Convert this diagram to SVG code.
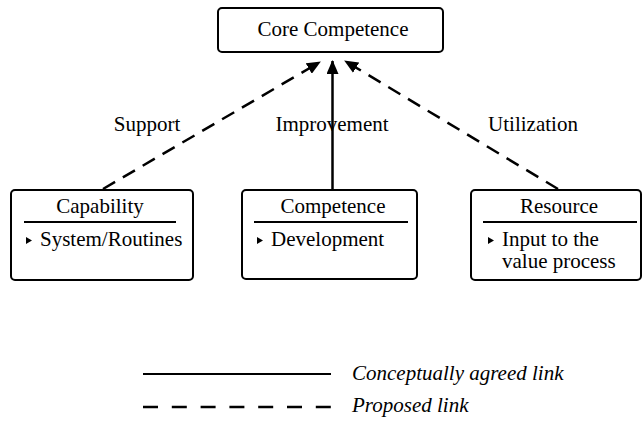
<svg xmlns="http://www.w3.org/2000/svg" width="644" height="425" viewBox="0 0 644 425">
  <style>
    .box { fill: #fff; stroke: #000; stroke-width: 2; }
    .rule { stroke: #000; stroke-width: 2; }
    .t { font-family: "Liberation Serif", "Times New Roman", serif; font-size: 21px; fill: #000; }
    .c { text-anchor: middle; }
    .i { font-style: italic; }
    .solid { stroke: #000; stroke-width: 2.5; fill: none; }
    .dash { stroke: #000; stroke-width: 2.5; fill: none; stroke-dasharray: 14 9; }
  </style>
  <defs>
    <marker id="head" viewBox="0 0 14 12" refX="13" refY="6" markerWidth="14" markerHeight="12" markerUnits="userSpaceOnUse" orient="auto">
      <path d="M0,0 L14,6 L0,12 Z" fill="#000"/>
    </marker>
    <path id="bullet" d="M0,-3.5 L6,0 L0,3.5 Z" fill="#000"/>
  </defs>

  <!-- connectors and their labels -->
  <g id="connectors">
    <line class="dash" x1="103" y1="189" x2="320" y2="62" marker-end="url(#head)"/>
    <line class="solid" x1="332.5" y1="190" x2="332.5" y2="61" marker-end="url(#head)"/>
    <line class="dash" x1="558" y1="189" x2="345" y2="61" marker-end="url(#head)"/>
    <text class="t c" x="147" y="131">Support</text>
    <text class="t c" x="332" y="131">Improvement</text>
    <text class="t c" x="533" y="131">Utilization</text>
  </g>

  <g id="core">
    <rect class="box" x="218" y="8" width="225" height="44" rx="4"/>
    <text class="t c" x="333" y="36">Core Competence</text>
  </g>

  <g id="capability">
    <rect class="box" x="11" y="190" width="182" height="90" rx="4"/>
    <text class="t c" x="100" y="213">Capability</text>
    <line class="rule" x1="24" y1="222" x2="176" y2="222"/>
    <use href="#bullet" x="26" y="240.5"/>
    <text class="t" x="40" y="246">System/Routines</text>
  </g>

  <g id="competence">
    <rect class="box" x="242" y="190" width="175" height="89" rx="4"/>
    <text class="t c" x="333" y="213">Competence</text>
    <line class="rule" x1="254" y1="222" x2="408" y2="222"/>
    <use href="#bullet" x="257" y="240.5"/>
    <text class="t" x="271" y="246">Development</text>
  </g>

  <g id="resource">
    <rect class="box" x="471" y="190" width="170" height="90" rx="4"/>
    <text class="t c" x="559" y="213">Resource</text>
    <line class="rule" x1="483" y1="222" x2="637" y2="222"/>
    <use href="#bullet" x="488" y="240.5"/>
    <text class="t" x="502" y="246">Input to the</text>
    <text class="t" x="502" y="268">value process</text>
  </g>

  <g id="legend">
    <line x1="143" y1="374" x2="331" y2="374" stroke="#000" stroke-width="1.8"/>
    <text class="t i" x="352" y="380">Conceptually agreed link</text>
    <line x1="143" y1="407" x2="331" y2="407" stroke="#000" stroke-width="2.5" stroke-dasharray="15 13.8"/>
    <text class="t i" x="352" y="412">Proposed link</text>
  </g>
</svg>
